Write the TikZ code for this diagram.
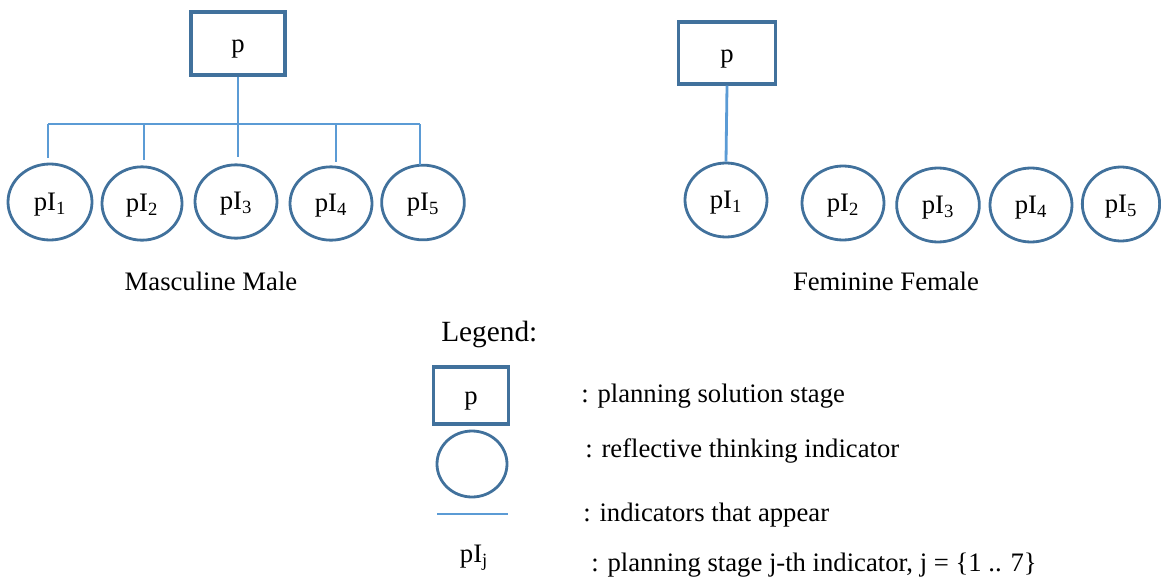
\documentclass[tikz,border=0pt]{standalone}
\usepackage{fontspec}
\setmainfont{Liberation Serif}
\usetikzlibrary{shapes.geometric}
\definecolor{outl}{HTML}{41719C}
\definecolor{conn}{HTML}{5B9BD5}
\tikzset{
  stagebox/.style={draw=outl, line width=2.3pt, rectangle, inner sep=0pt, font=\fontsize{20}{24}\selectfont, text height=16pt, text depth=2pt},
  indic/.style={draw=outl, line width=2.1pt, ellipse, inner sep=0pt, font=\fontsize{20}{24}\selectfont, text height=15pt, text depth=3pt},
  link/.style={draw=conn, line width=2.1pt},
  lbl/.style={font=\fontsize{20}{24}\selectfont, inner sep=0pt, text height=14pt, text depth=4pt},
}
\newcommand{\pI}[1]{pI\textsubscript{#1}}
\begin{document}
\begin{tikzpicture}[x=0.75pt,y=-0.75pt]
\useasboundingbox (0,0) rectangle (1161,578);
% ---- Masculine Male ----
\node[stagebox, minimum width=70.5pt, minimum height=47.25pt] (mp) at (238,43.5) {p};
\node[indic, minimum width=63pt, minimum height=57pt] (m1) at (50,202) {\pI{1}};
\node[indic, minimum width=60pt, minimum height=55pt] (m2) at (142,203.5) {\pI{2}};
\node[indic, minimum width=61.5pt, minimum height=55pt] (m3) at (236,201.5) {\pI{3}};
\node[indic, minimum width=61.5pt, minimum height=55pt] (m4) at (331,203.5) {\pI{4}};
\node[indic, minimum width=62pt, minimum height=56pt] (m5) at (423,202.5) {\pI{5}};
\coordinate (bus) at (238,124);
\coordinate (busL) at (48,124);
\coordinate (busR) at (420,124);
\draw[link] (mp.south) -- (bus);
\draw[link] (busL) -- (busR);
\draw[link] (busL) -- (48,158);
\draw[link] (144,124) -- (144,160);
\draw[link] (bus) -- (238,157);
\draw[link] (336,124) -- (336,162);
\draw[link] (busR) -- (420,165);
\node[lbl] (mlab) at (211,284) {Masculine Male};
% ---- Feminine Female ----
\node[stagebox, minimum width=72.75pt, minimum height=46.5pt] (fp) at (727,53) {p};
\node[indic, minimum width=61.5pt, minimum height=55.5pt] (f1) at (726,200) {\pI{1}};
\node[indic, minimum width=61.5pt, minimum height=55.5pt] (f2) at (843,203) {\pI{2}};
\node[indic, minimum width=62pt, minimum height=55.5pt] (f3) at (938,205) {\pI{3}};
\node[indic, minimum width=61.5pt, minimum height=55.5pt] (f4) at (1031,205) {\pI{4}};
\node[indic, minimum width=58pt, minimum height=55.5pt] (f5) at (1121,204) {\pI{5}};
\draw[link] (fp.south) -- (f1.north);
\node[lbl] (flab) at (886,284) {Feminine Female};
% ---- Legend ----
\node[lbl, anchor=west, font=\fontsize{22}{26}\selectfont] (leg) at (441,335) {Legend:};
\node[stagebox, minimum width=56.25pt, minimum height=42.75pt] (lbox) at (471,395.5) {p};
\node[indic, minimum width=52.5pt, minimum height=49.5pt] (lcirc) at (472,464) {};
\coordinate (ll1) at (437,514);
\coordinate (ll2) at (508,514);
\draw[link] (ll1) -- (ll2);
\node[lbl] (lpij) at (474,556) {pI\textsubscript{j}};
\node[lbl, anchor=west] (t1) at (581,396) {: planning solution stage};
\node[lbl, anchor=west] (t2) at (585,451) {: reflective thinking indicator};
\node[lbl, anchor=west] (t3) at (583,515) {: indicators that appear};
\node[lbl, anchor=west] (t4) at (591,565) {: planning stage j-th indicator, j = \{1 .. 7\}};
\end{tikzpicture}
\end{document}
